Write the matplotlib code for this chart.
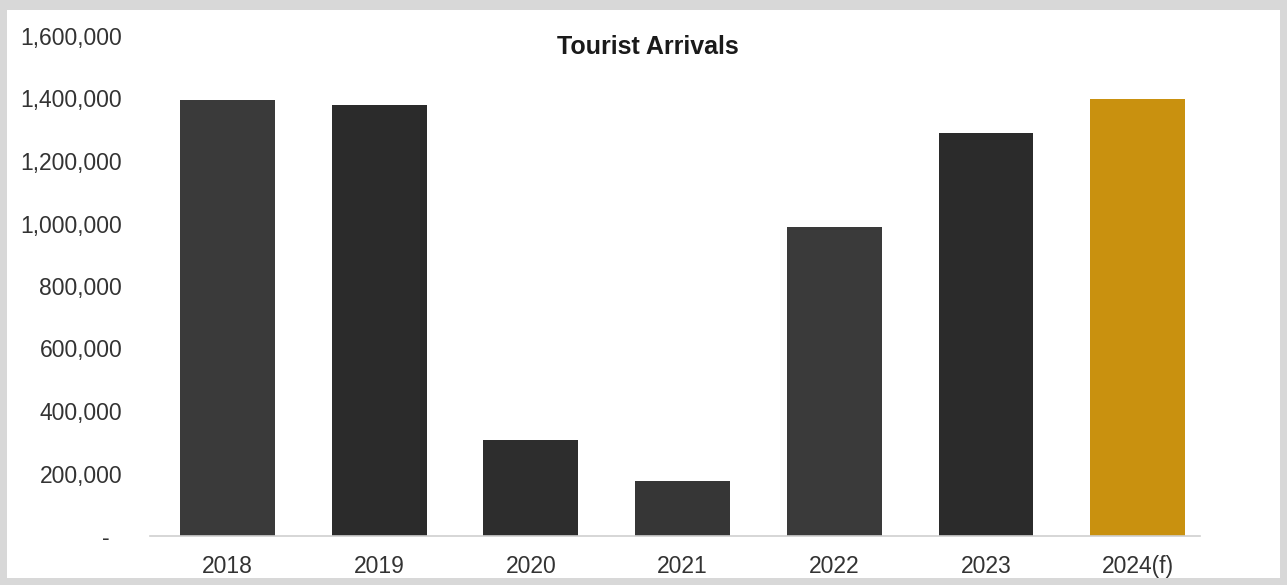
import matplotlib.pyplot as plt
from matplotlib.patches import Rectangle
from matplotlib.ticker import FuncFormatter

years = ['2018', '2019', '2020', '2021', '2022', '2023', '2024(f)']
arrivals = [1395000, 1380000, 307000, 176000, 990000, 1290000, 1400000]
bar_colors = ['#3a3a3a', '#2b2b2b', '#2d2d2d', '#363636', '#3a3a3a', '#2b2b2b', '#c9910f']
y_ticks = [0, 200000, 400000, 600000, 800000, 1000000, 1200000, 1400000, 1600000]

plt.rcParams['font.family'] = ['Liberation Sans', 'DejaVu Sans']

W, H = 1287, 585
fig = plt.figure(figsize=(W / 100, H / 100), dpi=100, facecolor='#d8d8d8')
# white panel inside the grey frame
fig.patches.append(Rectangle((7 / W, 7 / H), (1280 - 7) / W, (575 - 7) / H,
                             transform=fig.transFigure, facecolor='white',
                             edgecolor='none', zorder=-10))

ax = fig.add_axes([150 / W, (H - 536) / H, 1050 / W, 500 / H])
ax.set_facecolor('none')

x = range(len(years))
ax.bar(x, arrivals, width=0.625, color=bar_colors, zorder=2)

ax.set_xlim(-0.51, 6.41)
ax.set_ylim(0, 1600000)
ax.set_yticks(y_ticks)
ax.yaxis.set_major_formatter(FuncFormatter(
    lambda v, _: '-  ' if v == 0 else f'{int(v):,}'))
ax.set_xticks(list(x))
ax.set_xticklabels(years)

for s in ['top', 'right', 'left']:
    ax.spines[s].set_visible(False)
ax.spines['bottom'].set_color('#d0d0d0')
ax.spines['bottom'].set_linewidth(1.2)

ax.tick_params(axis='y', length=0, pad=20, labelsize=16.5, labelcolor='#333333')
ax.tick_params(axis='x', length=0, pad=14, labelsize=16.5, labelcolor='#333333')

fig.text(648 / W, 1 - 47 / H, 'Tourist Arrivals', ha='center', va='center',
         fontsize=18, fontweight='bold', color='#1a1a1a')

fig.savefig('out.png', dpi=100, facecolor=fig.get_facecolor())
